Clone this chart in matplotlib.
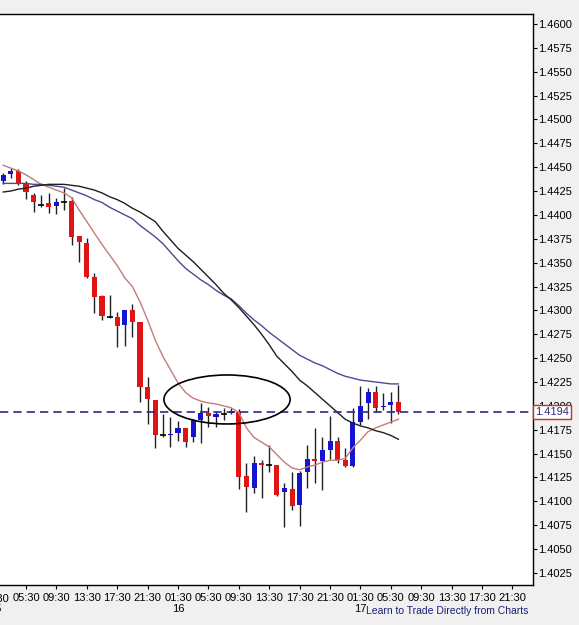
import numpy as np
import matplotlib.pyplot as plt
from matplotlib.patches import Ellipse

plt.rcParams['font.family'] = ['Liberation Sans', 'DejaVu Sans']

# hourly bars, 0 = the 01:30 bar of the 16th
bars = np.arange(-23, 30)

opens = [1.4436, 1.4443, 1.4446, 1.4432, 1.4421, 1.4410, 1.4412, 1.4409, 1.4414, 1.4415,
         1.4378, 1.4371, 1.4335, 1.4315, 1.4293, 1.4293, 1.4285, 1.4300, 1.4288, 1.4220,
         1.4206, 1.4169, 1.4169, 1.4172, 1.4177, 1.4167, 1.4185, 1.4193, 1.4188, 1.4192,
         1.4193, 1.4194, 1.4127, 1.4114, 1.4140, 1.4138, 1.4138, 1.4110, 1.4113, 1.4096,
         1.4131, 1.4144, 1.4142, 1.4154, 1.4163, 1.4143, 1.4137, 1.4183, 1.4203, 1.4215,
         1.4199, 1.4201, 1.4204]
highs = [1.4444, 1.4449, 1.4448, 1.4436, 1.4423, 1.4421, 1.4423, 1.4418, 1.4428, 1.4419,
         1.4378, 1.4376, 1.4339, 1.4316, 1.4316, 1.4298, 1.4300, 1.4307, 1.4288, 1.4230,
         1.4206, 1.4191, 1.4188, 1.4184, 1.4177, 1.4186, 1.4203, 1.4199, 1.4195, 1.4198,
         1.4198, 1.4197, 1.4140, 1.4147, 1.4143, 1.4159, 1.4138, 1.4119, 1.4131, 1.4132,
         1.4159, 1.4177, 1.4167, 1.4189, 1.4167, 1.4156, 1.4198, 1.4221, 1.4219, 1.4221,
         1.4213, 1.4215, 1.4222]
lows = [1.4432, 1.4439, 1.4431, 1.4417, 1.4403, 1.4408, 1.4402, 1.4401, 1.4405, 1.4369,
        1.4351, 1.4334, 1.4297, 1.4290, 1.4292, 1.4262, 1.4263, 1.4272, 1.4204, 1.4181,
        1.4156, 1.4167, 1.4157, 1.4163, 1.4157, 1.4162, 1.4161, 1.4178, 1.4178, 1.4185,
        1.4191, 1.4113, 1.4089, 1.4109, 1.4104, 1.4131, 1.4106, 1.4073, 1.4091, 1.4074,
        1.4114, 1.4119, 1.4112, 1.4144, 1.4140, 1.4136, 1.4136, 1.4180, 1.4186, 1.4194,
        1.4196, 1.4182, 1.4191]
closes = [1.4442, 1.4446, 1.4433, 1.4424, 1.4413, 1.4410, 1.4408, 1.4414, 1.4414, 1.4377,
          1.4372, 1.4335, 1.4314, 1.4294, 1.4293, 1.4284, 1.4300, 1.4288, 1.4220, 1.4207,
          1.4170, 1.4169, 1.4171, 1.4177, 1.4162, 1.4185, 1.4193, 1.4189, 1.4192, 1.4192,
          1.4195, 1.4126, 1.4115, 1.4140, 1.4138, 1.4138, 1.4107, 1.4114, 1.4095, 1.4130,
          1.4144, 1.4142, 1.4154, 1.4163, 1.4143, 1.4137, 1.4183, 1.4200, 1.4215, 1.4198,
          1.4200, 1.4204, 1.4194]

# moving averages
ma_fast = [1.4452, 1.4449, 1.4446, 1.4442, 1.4437, 1.4432, 1.4429, 1.4426, 1.4423, 1.4418,
           1.4405, 1.4393, 1.4381, 1.4369, 1.4358, 1.4347, 1.4334, 1.4325, 1.4309, 1.4290,
           1.4269, 1.4252, 1.4238, 1.4224, 1.4214, 1.4208, 1.4205, 1.4203, 1.4202, 1.4200,
           1.4198, 1.4193, 1.4177, 1.4167, 1.4162, 1.4157, 1.4149, 1.4141, 1.4135, 1.4133,
           1.4136, 1.4138, 1.4141, 1.4143, 1.4143, 1.4145, 1.4156, 1.4164, 1.4173, 1.4177,
           1.4180, 1.4183, 1.4186]
ma_mid = [1.4424, 1.4425, 1.4427, 1.4428, 1.4430, 1.4431, 1.4432, 1.4432, 1.4432, 1.4431,
          1.4430, 1.4428, 1.4426, 1.4423, 1.4419, 1.4416, 1.4412, 1.4407, 1.4403, 1.4398,
          1.4393, 1.4383, 1.4374, 1.4365, 1.4358, 1.4351, 1.4343, 1.4335, 1.4327, 1.4318,
          1.4311, 1.4303, 1.4294, 1.4285, 1.4275, 1.4264, 1.4252, 1.4244, 1.4236, 1.4227,
          1.4221, 1.4214, 1.4207, 1.4200, 1.4193, 1.4186, 1.4182, 1.4179, 1.4177, 1.4174,
          1.4172, 1.4169, 1.4165]
ma_slow = [1.4433, 1.4433, 1.4433, 1.4433, 1.4432, 1.4432, 1.4431, 1.4430, 1.4429, 1.4426,
           1.4423, 1.4420, 1.4416, 1.4413, 1.4408, 1.4404, 1.4400, 1.4396, 1.4389, 1.4383,
           1.4377, 1.4370, 1.4361, 1.4352, 1.4344, 1.4338, 1.4332, 1.4327, 1.4321, 1.4316,
           1.4312, 1.4305, 1.4297, 1.4290, 1.4284, 1.4277, 1.4271, 1.4265, 1.4259, 1.4253,
           1.4249, 1.4245, 1.4242, 1.4238, 1.4234, 1.4231, 1.4229, 1.4227, 1.4226, 1.4225,
           1.4224, 1.4223, 1.4223]

tick_pos = [-20, -16, -12, -8, -4, 0, 4, 8, 12, 16, 20, 24, 28, 32, 36, 40, 44]
tick_labels = ['05:30', '09:30', '13:30', '17:30', '21:30',
               '01:30', '05:30', '09:30', '13:30', '17:30', '21:30',
               '01:30', '05:30', '09:30', '13:30', '17:30', '21:30']
day_pos = [-24, 0, 24]
day_labels = ['15', '16', '17']
price_ticks = [1.4025, 1.4050, 1.4075, 1.4100, 1.4125, 1.4150, 1.4175, 1.4200, 1.4225,
               1.4250, 1.4275, 1.4300, 1.4325, 1.4350, 1.4375, 1.4400, 1.4425, 1.4450,
               1.4475, 1.4500, 1.4525, 1.4550, 1.4575, 1.4600]
last_price = 1.4194

UP = '#1414d2'
DOWN = '#e01414'
NAVY = '#2a2a88'

fig = plt.figure(figsize=(5.79, 6.25), dpi=100, facecolor='#f0f0f0')
ax = fig.add_axes([0, 0.064, 0.9206, 0.9136])
ax.set_facecolor('white')

o = np.array(opens)
c = np.array(closes)
# wicks
ax.vlines(bars, lows, highs, color='#202020', lw=1, zorder=2)
# bodies
body = c != o
cols = np.where(c > o, UP, DOWN)
ax.bar(bars[body], np.abs(c - o)[body], bottom=np.minimum(o, c)[body], width=0.66,
       color=cols[body], zorder=3)
ax.hlines(c[~body], bars[~body] - 0.4, bars[~body] + 0.4, color='black', lw=1.2, zorder=3)

# moving averages
ax.plot(bars, ma_fast, color='#c47b7b', lw=1, zorder=4)
ax.plot(bars, ma_slow, color='#4a4a96', lw=1, zorder=4)
ax.plot(bars, ma_mid, color='#1e1e1e', lw=1, zorder=4)

# current price line and marker
ax.axhline(last_price, color=NAVY, lw=1.2, ls=(0, (5, 3)), zorder=5)
ax.add_patch(Ellipse((6.45, 1.42067), 16.6, 0.00513, fill=False, ec='black', lw=1.2, zorder=6))

ax.set_xlim(-23.42, 46.71)
ax.set_ylim(1.40124, 1.46104)

ax.yaxis.tick_right()
ax.set_yticks(price_ticks)
ax.set_yticklabels(['%.4f' % p for p in price_ticks])
ax.set_xticks(tick_pos)
ax.set_xticklabels(tick_labels)
ax.tick_params(axis='y', direction='out', length=3, pad=1, labelsize=8, width=0.8)
ax.tick_params(axis='x', direction='out', length=3, pad=3, labelsize=8, width=0.8)
for s in ['top', 'right', 'bottom']:
    ax.spines[s].set_linewidth(1)
ax.spines['left'].set_visible(False)

# label of the bar just off the left edge
ax.annotate('01:30', (-24, 0), xycoords=('data', 'axes fraction'), xytext=(0, -6.5),
            textcoords='offset points', ha='center', va='top', fontsize=8,
            annotation_clip=False)
for p, d in zip(day_pos, day_labels):
    ax.annotate(d, (p, 0), xycoords=('data', 'axes fraction'), xytext=(0, -17),
                textcoords='offset points', ha='center', va='center', fontsize=8,
                annotation_clip=False)

ax.text(1.0035, last_price, '%.4f' % last_price, transform=ax.get_yaxis_transform(),
        ha='left', va='center', fontsize=8, color=NAVY, zorder=10,
        bbox=dict(boxstyle='square,pad=0.18', fc='white', ec='#c03030', lw=1))

fig.text(366 / 579, 1 - 611 / 625, 'Learn to Trade Directly from Charts', ha='left',
         va='center', fontsize=7.5, color='#1c1c78')

fig.savefig('out.png', dpi=100, facecolor=fig.get_facecolor())
